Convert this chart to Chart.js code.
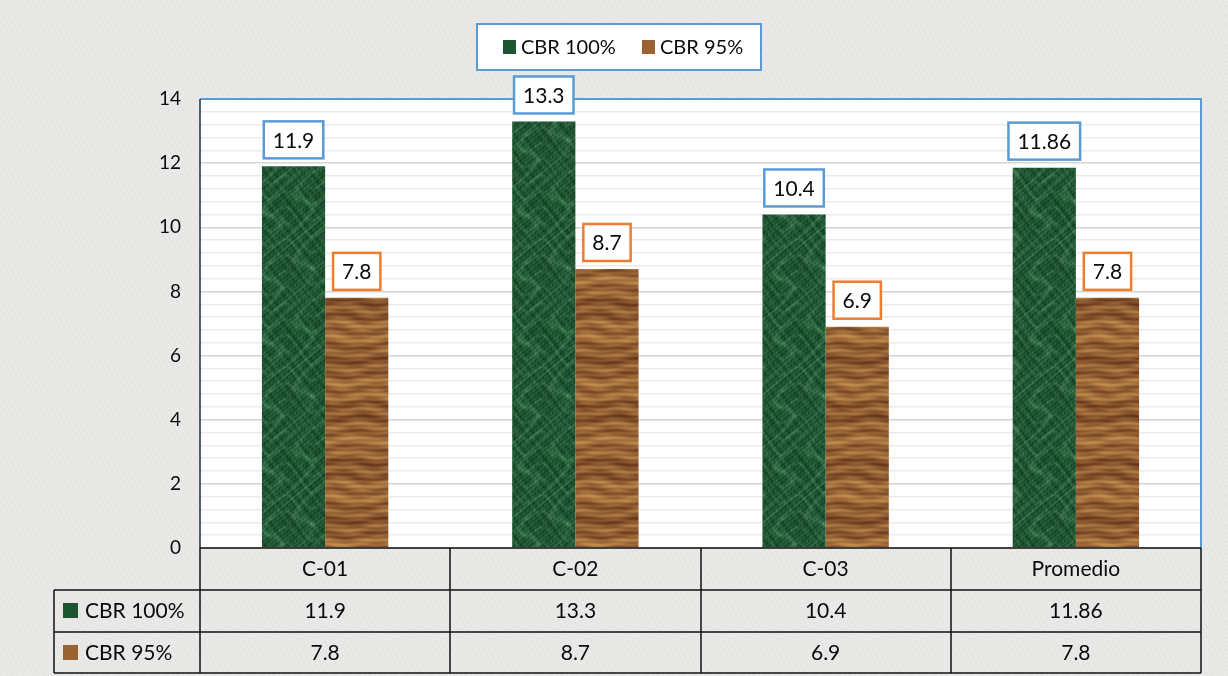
<!DOCTYPE html>
<html>
<head>
<meta charset="utf-8">
<script src="https://cdn.jsdelivr.net/npm/chart.js@4/dist/chart.umd.min.js"></script>
<style>
html,body{margin:0;padding:0;background:#e9e8e5;}
#wrap{width:1228px;height:676px;position:relative;}
</style>
</head>
<body>
<div id="wrap"><canvas id="c" width="1228" height="676"></canvas></div>
<script>
const categories = ['C-01', 'C-02', 'C-03', 'Promedio'];
const cbr100 = [11.9, 13.3, 10.4, 11.86];
const cbr95 = [7.8, 8.7, 6.9, 7.8];
const seriesNames = ['CBR 100%', 'CBR 95%'];
const yTickLabels = [0, 2, 4, 6, 8, 10, 12, 14];

const FONT = 'Lato, "Open Sans", sans-serif';
const TXT = '#0a0a0a';

function makePattern(w, h, fn) {
  const c = document.createElement('canvas');
  c.width = w; c.height = h;
  const g = c.getContext('2d');
  const img = g.createImageData(w, h);
  for (let y = 0; y < h; y++) {
    for (let x = 0; x < w; x++) {
      const [r, gg, b] = fn(x, y);
      const i = (y * w + x) * 4;
      img.data[i] = r; img.data[i + 1] = gg; img.data[i + 2] = b; img.data[i + 3] = 255;
    }
  }
  g.putImageData(img, 0, 0);
  return g.createPattern(c, 'repeat');
}
function mix(a, b, t) { t = Math.max(0, Math.min(1, t)); return [a[0] + (b[0] - a[0]) * t, a[1] + (b[1] - a[1]) * t, a[2] + (b[2] - a[2]) * t]; }
const TAU = Math.PI * 2;

// seamless textures (all frequencies are whole cycles over the tile)
const GN = 128, gf = TAU / GN;
const greenPat = makePattern(GN, GN, (x, y) => {
  const base = [16, 62, 34], light = [74, 140, 94];
  const v = Math.pow(Math.abs(Math.sin(3 * gf * x + 2 * gf * y + 2.2 * Math.sin(2 * gf * y + gf * x))), 14);
  const v2 = Math.pow(Math.abs(Math.sin(2 * gf * x - 4 * gf * y + 1.7 * Math.sin(3 * gf * x))), 18);
  const m = 0.12 * Math.sin(11 * gf * x) * Math.sin(9 * gf * y) + 0.1 * Math.sin(23 * gf * x + 29 * gf * y) + 0.08 * Math.sin(17 * gf * x - 13 * gf * y)
    + 0.06 * Math.sin(37 * gf * x + 5 * gf * y);
  return mix(base, light, 0.25 + v * 0.28 + v2 * 0.22 + m);
});
const WW = 64, WH = 160;
const woodPat = makePattern(WW, WH, (x, y) => {
  const dark = [104, 56, 28], light = [192, 138, 76];
  const fy = TAU / WH, fx = TAU / WW;
  const t = 0.5 + 0.24 * Math.sin(11 * fy * y + 1.2 * Math.sin(fx * x + fy * y))
    + 0.14 * Math.sin(33 * fy * y + 0.6 * Math.sin(2 * fx * x))
    + 0.12 * Math.sin(3 * fy * y) + 0.06 * Math.sin(7 * fy * y - 2 * fx * x);
  return mix(dark, light, t);
});
// subtle paper texture for the background
const BN = 96, bf = TAU / BN;
const paperPat = makePattern(BN, BN, (x, y) => {
  const n = 0.5 * Math.sin(13 * bf * x + 7 * bf * y) * Math.sin(5 * bf * x - 17 * bf * y)
    + 0.3 * Math.sin(31 * bf * x + 23 * bf * y) + 0.2 * Math.sin(41 * bf * x - 37 * bf * y);
  const c = 232 + n * 8;
  return [c, c - 0.5, c - 2];
});

const colors100 = '#1d5530';
const colors95 = '#9a6232';
const borderCols = ['#5b9bd5', '#ed7d31'];

const bgPlugin = {
  id: 'bg',
  beforeDraw(chart) {
    const { ctx, chartArea: a } = chart;
    ctx.save();
    ctx.fillStyle = paperPat;
    ctx.fillRect(0, 0, chart.width, chart.height);
    ctx.fillStyle = '#ffffff';
    ctx.fillRect(a.left, a.top, a.right - a.left, a.bottom - a.top);
    ctx.restore();
  },
  beforeDatasetsDraw(chart) {
    const { ctx, chartArea: a } = chart;
    ctx.save();
    ctx.strokeStyle = '#5b9bd5';
    ctx.lineWidth = 2;
    ctx.beginPath();
    ctx.moveTo(a.left, a.top); ctx.lineTo(a.right, a.top); ctx.lineTo(a.right, a.bottom);
    ctx.stroke();
    ctx.strokeStyle = '#1f2d4a';
    ctx.lineWidth = 1.5;
    ctx.beginPath(); ctx.moveTo(a.left, a.top); ctx.lineTo(a.left, a.bottom); ctx.stroke();
    ctx.restore();
  },
  afterDatasetsDraw(chart) {
    const { ctx } = chart;
    ctx.save();
    ctx.font = '21px ' + FONT;
    ctx.textAlign = 'center';
    ctx.textBaseline = 'middle';
    chart.data.datasets.forEach((ds, di) => {
      const meta = chart.getDatasetMeta(di);
      meta.data.forEach((bar, i) => {
        const txt = String(ds.data[i]);
        const w = ctx.measureText(txt).width + 18;
        const h = 37;
        const bx = bar.x - w / 2, by = bar.y - 8 - h;
        ctx.fillStyle = '#fff';
        ctx.fillRect(bx, by, w, h);
        ctx.strokeStyle = borderCols[di];
        ctx.lineWidth = 2.5;
        ctx.strokeRect(bx, by, w, h);
        ctx.fillStyle = TXT;
        ctx.fillText(txt, bar.x, by + h / 2 + 1);
      });
    });
    ctx.restore();
  },
  afterDraw(chart) {
    const { ctx, chartArea: a } = chart;
    const x = chart.scales.x;
    ctx.save();
    // data table
    const half = (x.getPixelForValue(1) - x.getPixelForValue(0)) / 2;
    const rowH = 42;
    const y0 = a.bottom, y1 = y0 + rowH, y2 = y1 + rowH, y3 = y2 + 41;
    const leftCol = 54;
    ctx.strokeStyle = '#111';
    ctx.lineWidth = 1.5;
    ctx.beginPath();
    ctx.moveTo(a.left, y0); ctx.lineTo(a.right, y0);
    ctx.moveTo(leftCol, y1); ctx.lineTo(a.right, y1);
    ctx.moveTo(leftCol, y2); ctx.lineTo(a.right, y2);
    ctx.moveTo(leftCol, y3); ctx.lineTo(a.right, y3);
    ctx.moveTo(leftCol, y1); ctx.lineTo(leftCol, y3);
    for (let i = 0; i <= categories.length; i++) {
      const px = i < categories.length ? x.getPixelForValue(i) - half : x.getPixelForValue(categories.length - 1) + half;
      ctx.moveTo(Math.round(px), y0); ctx.lineTo(Math.round(px), y3);
    }
    ctx.stroke();

    ctx.font = '21px ' + FONT;
    ctx.textBaseline = 'middle';
    const rows = [[cbr100, y1, colors100, seriesNames[0]], [cbr95, y2, colors95, seriesNames[1]]];
    rows.forEach(([vals, yy, col, name]) => {
      const cy = yy + rowH / 2;
      ctx.fillStyle = col;
      ctx.fillRect(63, cy - 8, 15, 15);
      ctx.fillStyle = TXT;
      ctx.textAlign = 'left';
      ctx.fillText(name, 85, cy);
      ctx.textAlign = 'center';
      vals.forEach((v, i) => ctx.fillText(String(v), x.getPixelForValue(i), cy));
    });

    // legend
    const lx = 477, ly = 24, lw = 284, lh = 46;
    ctx.fillStyle = '#fff';
    ctx.fillRect(lx, ly, lw, lh);
    ctx.strokeStyle = '#5b9bd5';
    ctx.lineWidth = 2;
    ctx.strokeRect(lx, ly, lw, lh);
    ctx.font = '20px ' + FONT;
    ctx.textAlign = 'left';
    const items = [[503, colors100, seriesNames[0]], [642, colors95, seriesNames[1]]];
    items.forEach(([ix, col, name]) => {
      ctx.fillStyle = col;
      ctx.fillRect(ix, ly + lh / 2 - 7, 13, 14);
      ctx.fillStyle = TXT;
      ctx.fillText(name, ix + 18, ly + lh / 2 + 1);
    });
    ctx.restore();
  }
};

new Chart(document.getElementById('c'), {
  type: 'bar',
  data: {
    labels: categories,
    datasets: [
      { label: seriesNames[0], data: cbr100, backgroundColor: greenPat, borderWidth: 0 },
      { label: seriesNames[1], data: cbr95, backgroundColor: woodPat, borderWidth: 0 }
    ]
  },
  options: {
    responsive: false,
    animation: false,
    layout: { padding: { top: 99, right: 27, left: 0, bottom: 0 } },
    datasets: { bar: { barPercentage: 1, categoryPercentage: 0.505 } },
    plugins: { legend: { display: false }, tooltip: { enabled: false } },
    scales: {
      x: {
        afterFit(s) { s.height = 128; },
        grid: { display: false, drawTicks: false },
        border: { display: false },
        ticks: { color: TXT, font: { family: FONT, size: 21 }, padding: 9 }
      },
      y: {
        min: 0, max: 14,
        afterFit(s) { s.width = 200; },
        border: { display: false },
        grid: {
          drawTicks: false,
          color: (c) => {
            const v = c.tick ? c.tick.value : 0;
            return Math.abs(v / 2 - Math.round(v / 2)) < 1e-6 ? '#d4d4d4' : '#ebebeb';
          },
          lineWidth: 1.5
        },
        ticks: {
          stepSize: 0.4,
          maxTicksLimit: 100,
          autoSkip: false,
          padding: 19,
          color: TXT,
          font: { family: FONT, size: 19 },
          callback: (v) => {
            const r = Math.round(v);
            return (Math.abs(v - r) < 1e-6 && yTickLabels.includes(r)) ? String(r) : '';
          }
        }
      }
    }
  },
  plugins: [bgPlugin]
});
</script>
</body>
</html>
